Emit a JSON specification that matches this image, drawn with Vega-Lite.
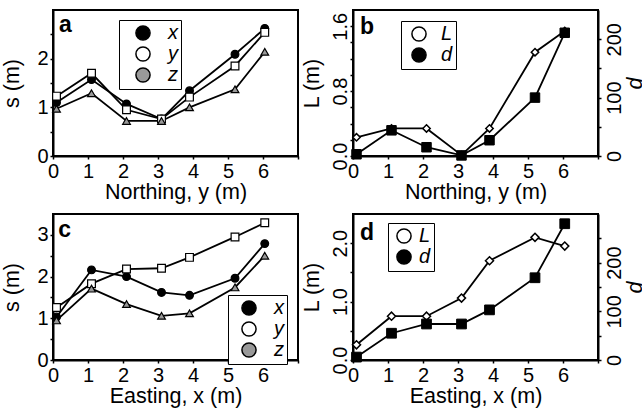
{
  "$schema": "https://vega.github.io/schema/vega-lite/v6.json",
  "autosize": {"type": "pad"},
  "padding": {"left": 0, "top": 9, "right": 0, "bottom": 0},
  "background": "white",
  "columns": 2,
  "spacing": {"row": 9, "column": 0},
  "resolve": {"scale": {"shape": "independent", "fill": "independent"}, "legend": {"shape": "independent", "fill": "independent"}},
  "config": {
    "font": "Liberation Sans",
    "view": {"stroke": "black", "strokeWidth": 2},
    "axis": {"domainColor": "black", "domainWidth": 2, "tickColor": "black", "tickWidth": 1.5, "tickSize": 3, "labelFontSize": 20, "titleFontSize": 21.5, "titleFontWeight": "normal", "labelColor": "black", "titleColor": "black", "grid": false, "labelFlush": false, "labelOverlap": false, "labelFont": "Liberation Sans", "titleFont": "Liberation Sans", "labelPadding": 2},
    "legend": {"labelFontSize": 20, "labelFontStyle": "italic", "labelFont": "Liberation Sans", "labelColor": "black", "strokeColor": "black", "fillColor": "white", "padding": 3, "rowPadding": -4, "symbolStrokeWidth": 1.5, "symbolStrokeColor": "black", "symbolSize": 200, "title": null}
  },
  "datasets": {
    "a": [
      {"pos": 0.1, "comp": "x", "s": 1.10}, {"pos": 1.1, "comp": "x", "s": 1.57}, {"pos": 2.1, "comp": "x", "s": 1.07}, {"pos": 3.1, "comp": "x", "s": 0.76}, {"pos": 3.9, "comp": "x", "s": 1.34}, {"pos": 5.2, "comp": "x", "s": 2.09}, {"pos": 6.05, "comp": "x", "s": 2.62},
      {"pos": 0.1, "comp": "y", "s": 1.23}, {"pos": 1.1, "comp": "y", "s": 1.70}, {"pos": 2.1, "comp": "y", "s": 0.95}, {"pos": 3.1, "comp": "y", "s": 0.76}, {"pos": 3.9, "comp": "y", "s": 1.21}, {"pos": 5.2, "comp": "y", "s": 1.85}, {"pos": 6.05, "comp": "y", "s": 2.54},
      {"pos": 0.1, "comp": "z", "s": 0.97}, {"pos": 1.1, "comp": "z", "s": 1.29}, {"pos": 2.1, "comp": "z", "s": 0.72}, {"pos": 3.1, "comp": "z", "s": 0.72}, {"pos": 3.9, "comp": "z", "s": 1.00}, {"pos": 5.2, "comp": "z", "s": 1.37}, {"pos": 6.05, "comp": "z", "s": 2.14}
    ],
    "b": [
      {"pos": 0.1, "L": 0.23, "d": 3}, {"pos": 1.1, "L": 0.34, "d": 44}, {"pos": 2.1, "L": 0.34, "d": 15}, {"pos": 3.1, "L": 0.01, "d": 1}, {"pos": 3.9, "L": 0.34, "d": 27}, {"pos": 5.2, "L": 1.28, "d": 100}, {"pos": 6.05, "L": 1.54, "d": 211}
    ],
    "c": [
      {"pos": 0.1, "comp": "x", "s": 1.03}, {"pos": 1.1, "comp": "x", "s": 2.16}, {"pos": 2.1, "comp": "x", "s": 2.00}, {"pos": 3.1, "comp": "x", "s": 1.62}, {"pos": 3.9, "comp": "x", "s": 1.55}, {"pos": 5.2, "comp": "x", "s": 1.96}, {"pos": 6.05, "comp": "x", "s": 2.79},
      {"pos": 0.1, "comp": "y", "s": 1.26}, {"pos": 1.1, "comp": "y", "s": 1.83}, {"pos": 2.1, "comp": "y", "s": 2.18}, {"pos": 3.1, "comp": "y", "s": 2.20}, {"pos": 3.9, "comp": "y", "s": 2.46}, {"pos": 5.2, "comp": "y", "s": 2.95}, {"pos": 6.05, "comp": "y", "s": 3.29},
      {"pos": 0.1, "comp": "z", "s": 0.95}, {"pos": 1.1, "comp": "z", "s": 1.71}, {"pos": 2.1, "comp": "z", "s": 1.34}, {"pos": 3.1, "comp": "z", "s": 1.06}, {"pos": 3.9, "comp": "z", "s": 1.12}, {"pos": 5.2, "comp": "z", "s": 1.74}, {"pos": 6.05, "comp": "z", "s": 2.50}
    ],
    "d": [
      {"pos": 0.1, "L": 0.26, "d": 6}, {"pos": 1.1, "L": 0.75, "d": 55}, {"pos": 2.1, "L": 0.75, "d": 74}, {"pos": 3.1, "L": 1.06, "d": 74}, {"pos": 3.9, "L": 1.70, "d": 103}, {"pos": 5.2, "L": 2.10, "d": 169}, {"pos": 6.05, "L": 1.95, "d": 280}
    ]
  },
  "concat": [
    {
      "width": 245, "height": 146,
      "data": {"name": "a"},
      "encoding": {
        "x": {"field": "pos", "type": "quantitative", "scale": {"domain": [0, 7], "nice": false}, "axis": {"values": [0, 1, 2, 3, 4, 5, 6, 7], "labelExpr": "datum.value < 7 ? datum.label : ''", "title": "Northing, y (m)", "titlePadding": 0}},
        "y": {"field": "s", "type": "quantitative", "scale": {"domain": [0, 3], "nice": false}, "axis": {"values": [0, 0.5, 1, 1.5, 2, 2.5], "format": ".0f", "labelExpr": "(datum.value == 0 || datum.value == 1 || datum.value == 2) ? datum.label : ''", "title": "s (m)", "minExtent": 16, "maxExtent": 16, "titlePadding": 13.5}}
      },
      "layer": [
        {"mark": {"type": "line", "color": "black", "strokeWidth": 1.8}, "encoding": {"detail": {"field": "comp"}}},
        {"mark": {"type": "point", "filled": true, "stroke": "black", "strokeWidth": 1.2, "opacity": 1, "size": 60},
         "encoding": {
           "shape": {"field": "comp", "type": "nominal", "scale": {"domain": ["z", "y", "x"], "range": ["triangle-up", "square", "circle"]}, "legend": null},
           "fill": {"field": "comp", "type": "nominal", "scale": {"domain": ["x", "y", "z"], "range": ["black", "white", "#999999"]},
             "legend": {"orient": "none", "legendX": 66, "legendY": 10, "symbolOffset": 11, "labelOffset": 15,
               "encode": {"symbols": {"stroke": {"value": "black"}, "strokeWidth": {"value": 1.5},
                 "shape": {"condition": [{"test": "datum.value === 'x'", "value": "M-2.29,0H2.29M-0.6,0A0.6,0.6,0,1,1,0.6,0A0.6,0.6,0,1,1,-0.6,0Z"}, {"test": "datum.value === 'y'", "value": "M-2.29,0H-0.55M0.55,0H2.29M-0.55,-0.55H0.55V0.55H-0.55Z"}], "value": "M-2.29,0H-0.34M0.34,0H2.29M0,-0.6L0.62,0.48H-0.62Z"}}}}}
         }},
        {"transform": [{"filter": "datum.pos == 0.1 && datum.comp == 'x'"}], "mark": {"type": "text", "text": "a", "align": "left", "baseline": "alphabetic", "fontSize": 23, "fontWeight": "bold", "fill": "black", "opacity": 1}, "encoding": {"x": {"datum": 0.17, "type": "quantitative"}, "y": {"datum": 2.55, "type": "quantitative"}}}
      ]
    },
    {
      "width": 245, "height": 146,
      "data": {"name": "b"},
      "encoding": {
        "x": {"field": "pos", "type": "quantitative", "scale": {"domain": [0, 7], "nice": false}, "axis": {"values": [0, 1, 2, 3, 4, 5, 6, 7], "labelExpr": "datum.value < 7 ? datum.label : ''", "title": "Northing, y (m)", "titlePadding": 0}}
      },
      "layer": [
        {
          "encoding": {"y": {"field": "L", "type": "quantitative", "scale": {"domain": [0, 1.8], "nice": false}, "axis": {"orient": "left", "values": [0, 0.2, 0.4, 0.6, 0.8, 1.0, 1.2, 1.4, 1.6], "format": ".1f", "labelExpr": "(datum.value == 0 || datum.value == 0.8 || datum.value == 1.6) ? datum.label : ''", "labelAngle": -90, "labelAlign": "center", "labelBaseline": "bottom", "labelPadding": 0, "minExtent": 20, "maxExtent": 20, "title": "L (m)", "titlePadding": 9.5}}},
          "layer": [
            {"mark": {"type": "line", "color": "black", "strokeWidth": 1.8}},
            {"mark": {"type": "point", "filled": true, "stroke": "black", "strokeWidth": 1.5, "opacity": 1, "size": 55},
             "encoding": {
               "shape": {"datum": "L", "type": "nominal", "scale": {"domain": ["d", "L"], "range": ["square", "diamond"]}, "legend": null},
               "fill": {"datum": "L", "type": "nominal", "scale": {"domain": ["L", "d"], "range": ["white", "black"]},
                 "legend": {"orient": "none", "legendX": 48, "legendY": 11, "symbolOffset": 5, "labelOffset": 12,
                   "encode": {"symbols": {"stroke": {"value": "black"}, "strokeWidth": {"value": 1.5},
                     "shape": {"condition": {"test": "datum.value === 'L'", "value": "M-1.5,0H-0.55M0.55,0H1.5M0,-0.55L0.55,0L0,0.55L-0.55,0Z"}, "value": "M-1.5,0H1.5M-0.65,-0.65H0.65V0.65H-0.65Z"}}}}}
             }},
            {"transform": [{"filter": "datum.pos == 0.1"}], "mark": {"type": "text", "text": "b", "align": "left", "baseline": "alphabetic", "fontSize": 23, "fontWeight": "bold", "fill": "black", "opacity": 1}, "encoding": {"x": {"datum": 0.2, "type": "quantitative"}, "y": {"datum": 1.5, "type": "quantitative"}}}
          ]
        },
        {
          "encoding": {"y": {"field": "d", "type": "quantitative", "scale": {"domain": [0, 250], "nice": false}, "axis": {"orient": "right", "values": [0, 50, 100, 150, 200], "labelExpr": "(datum.value == 0 || datum.value == 100 || datum.value == 200) ? datum.label : ''", "labelAngle": -90, "labelAlign": "center", "labelBaseline": "top", "labelPadding": 3.5, "minExtent": 21, "maxExtent": 21, "title": "d", "titleFontStyle": "italic", "titleAngle": -90, "titleBaseline": "top", "titlePadding": 5}}},
          "layer": [
            {"mark": {"type": "line", "color": "black", "strokeWidth": 1.8}},
            {"mark": {"type": "point", "filled": true, "stroke": "black", "strokeWidth": 1, "opacity": 1, "size": 90},
             "encoding": {
               "shape": {"datum": "d", "type": "nominal"},
               "fill": {"datum": "d", "type": "nominal"}
             }}
          ]
        }
      ],
      "resolve": {"scale": {"y": "independent"}}
    },
    {
      "width": 245, "height": 146,
      "data": {"name": "c"},
      "encoding": {
        "x": {"field": "pos", "type": "quantitative", "scale": {"domain": [0, 7], "nice": false}, "axis": {"values": [0, 1, 2, 3, 4, 5, 6, 7], "labelExpr": "datum.value < 7 ? datum.label : ''", "title": "Easting, x (m)", "titlePadding": 0}},
        "y": {"field": "s", "type": "quantitative", "scale": {"domain": [0, 3.5], "nice": false}, "axis": {"values": [0, 0.5, 1, 1.5, 2, 2.5, 3], "format": ".0f", "labelExpr": "(datum.value == 0 || datum.value == 1 || datum.value == 2 || datum.value == 3) ? datum.label : ''", "title": "s (m)", "minExtent": 16, "maxExtent": 16, "titlePadding": 13.5}}
      },
      "layer": [
        {"mark": {"type": "line", "color": "black", "strokeWidth": 1.8}, "encoding": {"detail": {"field": "comp"}}},
        {"mark": {"type": "point", "filled": true, "stroke": "black", "strokeWidth": 1.2, "opacity": 1, "size": 60},
         "encoding": {
           "shape": {"field": "comp", "type": "nominal", "scale": {"domain": ["z", "y", "x"], "range": ["triangle-up", "square", "circle"]}, "legend": null},
           "fill": {"field": "comp", "type": "nominal", "scale": {"domain": ["x", "y", "z"], "range": ["black", "white", "#999999"]},
             "legend": {"orient": "none", "legendX": 175, "legendY": 81, "symbolOffset": 8, "labelOffset": 15,
               "encode": {"symbols": {"stroke": {"value": "black"}, "strokeWidth": {"value": 1.5},
                 "shape": {"condition": [{"test": "datum.value === 'x'", "value": "M-2.12,0H2.12M-0.6,0A0.6,0.6,0,1,1,0.6,0A0.6,0.6,0,1,1,-0.6,0Z"}, {"test": "datum.value === 'y'", "value": "M-2.12,0H-0.55M0.55,0H2.12M-0.55,-0.55H0.55V0.55H-0.55Z"}], "value": "M-2.12,0H-0.34M0.34,0H2.12M0,-0.6L0.62,0.48H-0.62Z"}}}}}
         }},
        {"transform": [{"filter": "datum.pos == 0.1 && datum.comp == 'x'"}], "mark": {"type": "text", "text": "c", "align": "left", "baseline": "alphabetic", "fontSize": 23, "fontWeight": "bold", "fill": "black", "opacity": 1}, "encoding": {"x": {"datum": 0.15, "type": "quantitative"}, "y": {"datum": 2.94, "type": "quantitative"}}}
      ]
    },
    {
      "width": 245, "height": 146,
      "data": {"name": "d"},
      "encoding": {
        "x": {"field": "pos", "type": "quantitative", "scale": {"domain": [0, 7], "nice": false}, "axis": {"values": [0, 1, 2, 3, 4, 5, 6, 7], "labelExpr": "datum.value < 7 ? datum.label : ''", "title": "Easting, x (m)", "titlePadding": 0}}
      },
      "layer": [
        {
          "encoding": {"y": {"field": "L", "type": "quantitative", "scale": {"domain": [0, 2.5], "nice": false}, "axis": {"orient": "left", "values": [0, 0.5, 1, 1.5, 2], "format": ".1f", "labelExpr": "(datum.value == 0 || datum.value == 1 || datum.value == 2) ? datum.label : ''", "labelAngle": -90, "labelAlign": "center", "labelBaseline": "bottom", "labelPadding": 0, "minExtent": 20, "maxExtent": 20, "title": "L (m)", "titlePadding": 9.5}}},
          "layer": [
            {"mark": {"type": "line", "color": "black", "strokeWidth": 1.8}},
            {"mark": {"type": "point", "filled": true, "stroke": "black", "strokeWidth": 1.5, "opacity": 1, "size": 65},
             "encoding": {
               "shape": {"datum": "L", "type": "nominal", "scale": {"domain": ["d", "L"], "range": ["square", "diamond"]}, "legend": null},
               "fill": {"datum": "L", "type": "nominal", "scale": {"domain": ["L", "d"], "range": ["white", "black"]},
                 "legend": {"orient": "none", "legendX": 35, "legendY": 9, "symbolOffset": 3, "labelOffset": 5,
                   "encode": {"symbols": {"stroke": {"value": "black"}, "strokeWidth": {"value": 1.5},
                     "shape": {"condition": {"test": "datum.value === 'L'", "value": "M-1.18,0H-0.55M0.55,0H1.18M0,-0.55L0.55,0L0,0.55L-0.55,0Z"}, "value": "M-1.18,0H1.18M-0.65,-0.65H0.65V0.65H-0.65Z"}}}}}
             }},
            {"transform": [{"filter": "datum.pos == 0.1"}], "mark": {"type": "text", "text": "d", "align": "left", "baseline": "alphabetic", "fontSize": 23, "fontWeight": "bold", "fill": "black", "opacity": 1}, "encoding": {"x": {"datum": 0.2, "type": "quantitative"}, "y": {"datum": 2.06, "type": "quantitative"}}}
          ]
        },
        {
          "encoding": {"y": {"field": "d", "type": "quantitative", "scale": {"domain": [0, 300], "nice": false}, "axis": {"orient": "right", "values": [0, 50, 100, 150, 200, 250], "labelExpr": "(datum.value == 0 || datum.value == 100 || datum.value == 200) ? datum.label : ''", "labelAngle": -90, "labelAlign": "center", "labelBaseline": "top", "labelPadding": 3.5, "minExtent": 21, "maxExtent": 21, "title": "d", "titleFontStyle": "italic", "titleAngle": -90, "titleBaseline": "top", "titlePadding": 5}}},
          "layer": [
            {"mark": {"type": "line", "color": "black", "strokeWidth": 1.8}},
            {"mark": {"type": "point", "filled": true, "stroke": "black", "strokeWidth": 1, "opacity": 1, "size": 95},
             "encoding": {
               "shape": {"datum": "d", "type": "nominal"},
               "fill": {"datum": "d", "type": "nominal"}
             }}
          ]
        }
      ],
      "resolve": {"scale": {"y": "independent"}}
    }
  ]
}
